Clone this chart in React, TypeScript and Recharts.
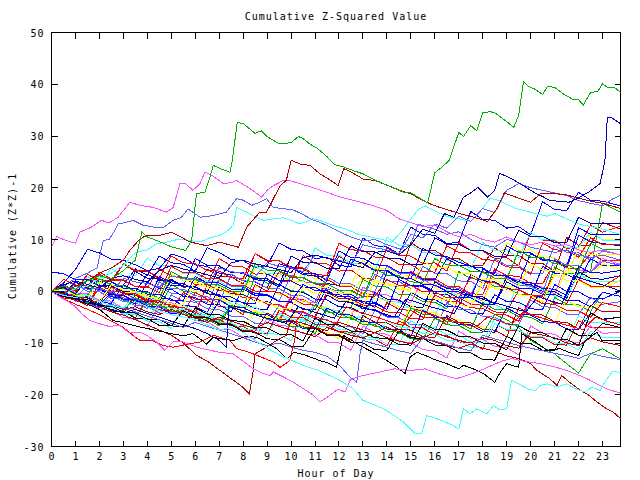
import { LineChart, Line, XAxis, YAxis, ReferenceArea } from "recharts";

// --- axis values ---
const HOUR_TICKS = [0, 1, 2, 3, 4, 5, 6, 7, 8, 9, 10, 11, 12, 13, 14, 15, 16, 17, 18, 19, 20, 21, 22, 23];
const VALUE_TICKS = [-30, -20, -10, 0, 10, 20, 30, 40, 50];

// half-hour sample times used by the background walks
const HOURS = [
  0, 0.5, 1, 1.5, 2, 2.5, 3, 3.5,
  4, 4.5, 5, 5.5, 6, 6.5, 7, 7.5,
  8, 8.5, 9, 9.5, 10, 10.5, 11, 11.5,
  12, 12.5, 13, 13.5, 14, 14.5, 15, 15.5,
  16, 16.5, 17, 17.5, 18, 18.5, 19, 19.5,
  20, 20.5, 21, 21.5, 22, 22.5, 23, 23.75,
];

// --- colours (old GD style palette) ---
const GREEN = "#00b000";
const BLUE = "#0000ff";
const DBLUE = "#0000b0";
const RED = "#ff0000";
const DRED = "#b00000";
const MAGENTA = "#ff50ff";
const MARINE = "#6060ff";
const CYAN = "#40ffff";
const YELLOW = "#ffff00";
const BLACK = "#000000";

// --- outlier walks, [hour, value] ---
const TR_GREEN = [[0,0],[0.5,1],[1,0.4],[1.5,2],[2,3],[2.5,2.4],[3,4],[3.5,6],[3.77,11.4],[4,10.5],[4.5,9.6],[5,8.6],[5.6,7.9],[5.85,9.8],[6.05,18.9],[6.4,19.1],[6.6,21.8],[6.75,24.3],[7.1,23.6],[7.45,23],[7.55,25.3],[7.75,32.6],[8,32.4],[8.5,30.5],[8.75,31],[9,29.9],[9.5,28.5],[10,28.7],[10.3,29.9],[10.5,29.5],[10.8,28.4],[11.1,27.6],[11.5,26],[11.8,24.5],[12.2,24],[12.6,23.3],[13,22.7],[13.5,21.5],[14,20.5],[14.7,19.1],[15,19],[15.4,17.9],[15.7,17.1],[16,22.9],[16.3,24],[16.6,25.3],[17,30.7],[17.2,29.9],[17.5,32],[17.75,31],[18,34.5],[18.3,34.7],[18.5,34.5],[19.3,31.7],[19.5,34],[19.7,40.5],[19.9,39.6],[20.2,39],[20.5,38],[20.7,39.6],[21,39.4],[21.4,38],[21.8,37],[22,37],[22.2,36],[22.5,38.4],[22.8,38.6],[23,40.1],[23.2,39.4],[23.5,39.4],[23.75,38.4]];
const TR_DBLUE_TOP = [[0,0],[0.5,1.2],[1,2],[1.5,1.3],[2,0.6],[2.5,2.5],[3,3],[3.5,2.3],[4,1.8],[4.5,4],[5,5],[5.5,4.3],[6,3.8],[6.5,3.2],[7,2.6],[7.5,5.5],[8,6],[8.5,5.3],[9,4.8],[9.5,4.2],[10,3.6],[10.5,6.5],[11,7],[11.5,6.4],[12,5.8],[12.5,5.2],[13,4.6],[13.5,7.5],[14,7.8],[14.5,7],[15,9],[15.5,12],[16,11.2],[16.4,15],[16.8,14.3],[17.2,18.2],[17.5,19],[17.8,20.1],[18.2,18.2],[18.5,19.5],[18.7,22.8],[19.1,22],[19.56,20.8],[19.9,19.8],[20.26,18.8],[20.5,18.3],[20.8,17.5],[21.2,17.4],[21.6,17.2],[21.95,17.9],[22.4,19.1],[22.9,20.8],[23.1,25.3],[23.2,33.6],[23.35,33.6],[23.55,33],[23.75,32.4]];
const TR_MAG_TOP = [[0,8.5],[0.22,10.6],[0.6,9.8],[1,9.3],[1.18,11.4],[1.67,12.4],[2.09,13.7],[2.4,13.2],[2.78,14.3],[3.27,17.2],[3.69,16.6],[4.24,16.2],[4.8,15.3],[5.08,16.2],[5.36,20.8],[5.6,20.8],[5.9,19.5],[6.2,20.8],[6.4,23],[6.7,22.4],[7.17,20.8],[7.5,21],[7.73,21.4],[8.3,19.8],[8.77,18.2],[9,19.5],[9.26,20.4],[9.67,21.4],[10,21.3],[10.37,20.8],[11.2,19.6],[12.04,18.2],[12.9,17.2],[13.4,16.6],[14,15.6],[14.5,14],[14.97,13.3],[15.5,12.5],[16,12.8],[16.5,11.5],[17,10.5],[17.5,11],[18,10],[18.5,9.5],[19,10.5],[19.5,9.5],[20,9],[20.5,9.5],[21,8.7],[21.5,9],[22,8],[22.5,7.5],[23,8],[23.75,7]];
const TR_MARINE_TOP = [[0,0],[0.5,1],[1,2.5],[1.5,3.5],[1.9,4.5],[2.16,9.8],[2.4,10],[2.64,11.7],[2.78,13],[3.1,13.3],[3.41,13.7],[3.8,12.8],[4.24,12.4],[4.7,12.4],[5.08,13.7],[5.4,14.2],[5.7,15.9],[6.2,14.3],[6.7,14.6],[7.3,15.3],[7.73,17.9],[8,17.6],[8.35,16.6],[8.7,17.2],[8.98,17.9],[9.26,16.2],[10.1,15.7],[10.5,14.8],[10.9,13.8],[11.2,13.3],[11.6,12.5],[12,11.5],[12.5,10.5],[13,9.7],[13.5,10],[14,9],[14.5,8.2],[15,9],[15.3,13],[15.6,12.5],[16,12],[16.5,11],[17,11.5],[17.5,10],[18,9],[18.5,8.5],[19,10],[19.5,9.5],[20,8.5],[20.5,8],[21,7.5],[21.5,8],[22,7],[22.5,6.5],[23,7],[23.75,6]];
const TR_MARINE_2 = [[0,0],[0.5,-0.6],[1,1],[1.5,0.4],[2,0.5],[2.5,-0.2],[3,2.5],[3.5,1.8],[4,1.5],[4.5,0.8],[5,3],[5.5,2.4],[6,2.2],[6.5,1.5],[7,4.5],[7.5,3.8],[8,3.5],[8.5,2.8],[9,5.5],[9.5,4.8],[10,4.5],[10.5,3.8],[11,7],[11.5,6.4],[12,6],[12.5,5.3],[13,9],[13.5,8.4],[14,8],[14.5,7.3],[15,11],[15.5,10.3],[16,13],[16.5,12.2],[17,14.5],[17.5,13.5],[18,16],[18.5,15.2],[19,19.5],[19.5,20.8],[20,20],[20.5,19.5],[21,19],[21.5,18.5],[22,17.5],[22.5,17],[23,16.5],[23.4,17.8],[23.75,18.5]];
const TR_CYAN_TOP = [[0,0],[0.5,-0.5],[1,0.5],[1.5,1],[2,2.5],[2.5,3.5],[3,5],[3.5,7.5],[4,8],[4.38,9.2],[4.8,9.5],[5.36,10.1],[5.8,9.8],[6.2,9.5],[6.6,10.3],[7.03,10.8],[7.3,11.5],[7.59,12.7],[7.73,16.2],[8.1,15.4],[8.42,14.6],[8.84,13.7],[9.3,14],[9.67,14.2],[10,13.7],[10.37,13],[10.9,14],[11.2,13.7],[11.75,12.7],[12.3,12],[12.8,11],[13.3,10.5],[13.8,10],[14.2,9.5],[14.6,11.5],[15,14],[15.3,15.8],[15.6,16.5],[16,15.5],[16.5,14.5],[17,14],[17.5,13.5],[18,16],[18.3,18],[18.7,17.5],[19,16.8],[19.4,16],[19.8,15.5],[20.2,15],[20.7,14.5],[21,15],[21.5,14],[22,13],[22.5,12.5],[23,12],[23.75,11]];
const TR_DRED_TOP = [[0,0],[0.5,-0.5],[1,1],[1.5,2],[2,3.5],[2.5,4.5],[3,6],[3.27,7.9],[3.69,10.1],[3.97,10.8],[4.5,10.8],[5.01,11.4],[5.4,10.5],[5.78,9.5],[6.1,9.2],[6.47,8.8],[7.03,9.5],[7.4,9],[7.8,8.5],[8.15,12.4],[8.7,15.3],[8.98,15.3],[9.54,20.4],[9.8,21.4],[10,25.3],[10.37,24.6],[10.8,24.3],[11.2,22.7],[11.6,21.6],[11.97,20.4],[12.2,23.7],[12.6,22.8],[13,21.7],[13.5,21.4],[14,20.5],[14.55,19.5],[15,18.8],[15.4,17.8],[15.8,16.9],[16.2,16.2],[16.7,15.5],[17.2,14.8],[17.7,14.2],[18.2,13.5],[18.6,16],[18.9,19],[19.2,18.5],[19.6,17.8],[20,17.2],[20.4,18.8],[20.95,18.9],[21.5,18.6],[22,18],[22.5,17.4],[23,17],[23.75,16]];
const TR_CYAN_LOW = [[0,0],[0.5,-0.8],[1,-1.2],[1.5,-0.8],[2,-2],[2.5,-2.8],[3,-3.2],[3.5,-2],[4,-3],[4.5,-3.8],[5,-4.5],[5.5,-5],[6,-5.5],[6.5,-6.5],[7,-7.5],[7.5,-7],[8,-8],[8.5,-9.5],[9,-11],[9.67,-12.7],[10.1,-13.5],[10.5,-14.3],[11.2,-15.4],[12.04,-17.2],[12.6,-18.9],[13,-21.1],[13.4,-21.8],[13.85,-22.7],[14.3,-24],[14.7,-25.3],[15.18,-27.5],[15.46,-27.5],[15.66,-24],[16,-24.5],[16.3,-25],[16.7,-25.8],[17,-26.6],[17.2,-22.7],[17.47,-23.7],[17.75,-22.7],[18.17,-23.7],[18.45,-22.1],[18.7,-22.9],[19,-22.7],[19.2,-17.2],[19.5,-17.9],[19.9,-18.9],[20.2,-19.2],[20.4,-18.2],[20.7,-17.9],[21.1,-18.5],[21.5,-17.9],[21.9,-18.9],[22.3,-19.5],[22.55,-18.5],[22.9,-19.2],[23.1,-17.5],[23.4,-15.6],[23.6,-15.6],[23.75,-16]];
const TR_DRED_LOW_1 = [[0,0],[0.5,-1],[1,-1.8],[1.5,-2.5],[2,-3],[2.5,-4],[3,-4.6],[3.5,-5.5],[4,-6.5],[4.5,-7.5],[5,-8.5],[5.5,-10],[6.06,-12.4],[6.5,-13.5],[7.03,-15.3],[7.59,-17.2],[8,-18.6],[8.26,-19.8],[8.42,-15.3],[8.49,-12.1],[8.98,-10.8],[9.4,-9.5],[9.8,-8.5],[10,-5.6],[10.5,-6.2],[11,-7],[11.5,-7.6],[12,-6],[12.5,-6.8],[13,-7.5],[13.5,-8],[14,-7],[14.5,-7.8],[15,-8.5],[15.5,-9],[16,-8],[16.5,-8.8],[17,-9.5],[17.5,-10],[18,-9],[18.5,-9.5],[19,-10.5],[19.5,-11],[20,-8],[20.5,-8.5],[21,-9],[21.5,-10],[22,-10.5],[22.5,-9],[23,-9.8],[23.75,-10.5]];
const TR_DRED_LOW_2 = [[0,0],[0.5,-0.6],[1,-1.5],[1.5,-1],[2,-2],[2.5,-2.8],[3,-3.5],[3.5,-3],[4,-4],[4.5,-4.5],[5,-3.5],[5.5,-4.5],[6,-5.2],[6.5,-6],[7,-5],[7.5,-5.8],[8,-6.5],[8.5,-7.2],[9,-6],[9.5,-6.8],[10,-7.5],[10.5,-8],[11,-8.8],[11.5,-7],[12,-7.8],[12.5,-8.5],[13,-9],[13.5,-8],[14,-9],[14.5,-9.6],[15,-10.2],[15.5,-9],[16,-9.8],[16.5,-10.5],[17,-11],[17.5,-10.2],[18,-11],[18.5,-11.6],[19,-12.5],[19.5,-13],[20,-14],[20.26,-15.3],[20.8,-16.9],[21.1,-18.2],[21.3,-16.3],[21.6,-17.5],[22,-18.9],[22.4,-20],[22.77,-21.4],[23.1,-22.5],[23.46,-23.4],[23.75,-24.6]];
const TR_MAG_LOW = [[0,0],[0.3,-1],[0.7,-2],[1,-3],[1.3,-4.5],[1.6,-5.65],[2.02,-6.3],[2.4,-6.8],[2.85,-6.6],[3.2,-7.9],[3.69,-7.9],[4,-8.6],[4.38,-9.8],[4.73,-11.4],[5.08,-9.8],[5.5,-9.8],[6.06,-10.8],[6.5,-11.3],[7.03,-11.8],[7.59,-12.1],[8,-13.5],[8.42,-15],[8.8,-15.8],[9.12,-16.3],[9.26,-15.6],[9.7,-16.6],[10.1,-17.6],[10.5,-18.8],[10.93,-20.1],[11.2,-21.4],[11.5,-20.5],[11.97,-18.9],[12.25,-19.5],[12.46,-17.2],[12.8,-16.5],[13.3,-16],[13.8,-15.5],[14.3,-15],[15,-15.3],[15.6,-15],[16.2,-16],[16.9,-16.9],[17.3,-16.3],[17.8,-15.5],[18.3,-14.5],[18.8,-13.5],[19.2,-13],[19.7,-13.5],[20.4,-14],[21,-14.6],[21.5,-15.3],[22,-16.2],[22.35,-16.9],[22.8,-18],[23.2,-18.9],[23.75,-19.7]];
const TR_BLACK = [[0,0],[0.5,-1],[1,-1.5],[1.5,-2.5],[2,-3.5],[2.57,-5.65],[3.1,-6.2],[3.69,-6.9],[4.3,-7.5],[5.01,-8.2],[5.5,-8.6],[5.9,-8.2],[6.2,-9.2],[6.47,-10.2],[6.75,-8.9],[7.2,-9.3],[7.59,-9.5],[8.15,-8.7],[8.56,-8.9],[9,-10],[9.4,-11.1],[9.82,-13.1],[10.1,-11.8],[10.5,-12.2],[10.8,-12.7],[11.2,-13.4],[11.5,-13.8],[11.9,-14.7],[12.18,-8.5],[12.6,-9.7],[13,-10.8],[13.5,-12],[14,-13.4],[14.4,-14.6],[14.76,-15.9],[14.97,-12.7],[15.25,-11.8],[15.6,-12.4],[15.94,-13.1],[16.5,-14],[17,-15],[17.2,-14.3],[17.6,-15],[18.03,-15.9],[18.5,-17.6],[18.75,-15.5],[19,-14],[19.5,-14.7],[19.63,-8.2],[20.2,-9.8],[20.68,-11.4],[21.23,-11.1],[21.6,-11.8],[22,-12.4],[22.28,-9.5],[22.77,-7.9],[22.97,-9.5],[23.4,-9.5],[23.75,-9.6]];
const TR_RED_LOW = [[0,0],[0.5,-1.5],[1,-2.5],[1.5,-3.5],[2,-4.5],[2.5,-5.8],[3,-7],[3.4,-8.5],[3.69,-9.5],[4.2,-9.5],[4.66,-10.5],[5.08,-10.8],[5.6,-10.3],[6.2,-9.8],[6.75,-8.5],[7.1,-9],[7.45,-9.5],[7.73,-11.1],[8.1,-11.6],[8.42,-12.1],[8.8,-12.8],[9.26,-13.7],[9.54,-14.7],[9.95,-13.4],[10.16,-9.2],[10.23,-5.65],[10.5,-4],[10.9,-4.8],[11.4,-5.5],[11.9,-6.2],[12.3,-3],[12.7,-3.8],[13.2,-4.5],[13.7,-5.2],[14.2,-6],[14.7,-6.6],[15.2,-3.5],[15.7,-4.2],[16.2,-5],[16.7,-5.7],[17.2,-6.3],[17.7,-7],[18.2,-5],[18.7,-5.8],[19.2,-6.5],[19.7,-4],[20.2,-4.8],[20.7,-5.5],[21.2,-6.2],[21.7,-6.8],[22.2,-7.4],[22.7,-5],[23.2,-5.8],[23.75,-6.5]];
const TR_DBLUE_LOW = [[0,0],[0.5,-0.5],[1,-1.3],[1.5,-2],[2,-2.8],[2.5,-3.5],[3,-4.2],[3.5,-3.5],[4,-4.3],[4.5,-5],[5,-5.8],[5.5,-6.5],[6,-7.2],[6.5,-8.2],[7,-9.5],[7.3,-10.8],[7.4,-3],[7.8,-3.5],[8.3,-4.2],[8.8,-5],[9.3,-5.6],[9.8,-6.2],[10.3,-3],[10.8,-3.8],[11.3,-4.5],[11.8,-5.2],[12.3,-2],[12.8,-2.7],[13.3,-3.5],[13.8,-4.2],[14.3,-5],[14.8,-1.5],[15.3,-2.2],[15.8,-3],[16.3,-3.6],[16.8,-4.3],[17.3,-0.5],[17.8,-1.2],[18.3,-2],[18.8,-2.6],[19.3,-3.3],[19.8,-4],[20.3,-1],[20.8,-1.8],[21.3,-2.5],[21.8,3],[22.3,2.2],[22.8,1.5],[23.3,0.8],[23.75,0]];
const TR_MARINE_LOW = [[0,0],[0.5,-0.8],[1,-1.6],[1.5,-2.4],[2,-3.2],[2.5,-2.5],[3,-3.3],[3.5,-4],[4,-4.8],[4.5,-5.5],[5,-6.2],[5.5,-7],[6,-6],[6.5,-6.8],[7,-7.5],[7.5,-8.2],[8,-9],[8.5,-9.8],[9,-10.5],[9.5,-10],[10,-10.8],[10.5,-11.4],[11,-11.8],[11.5,-12.6],[12,-14.2],[12.46,-16.6],[12.74,-17.6],[12.88,-12.1],[13,-9.5],[13.5,-10.2],[14,-10.8],[14.5,-11.5],[15,-12],[15.5,-9],[16,-9.6],[16.5,-10.3],[17,-11],[17.5,-11.5],[18,-8.5],[18.5,-9.2],[19,-9.8],[19.5,-10.5],[20,-11],[20.5,-11.5],[21,-12],[21.5,-12.4],[22,-13],[22.5,-12],[23,-12.6],[23.75,-13.2]];

// --- background walks, one value per entry of HOURS ---
const F01 = [0,0.9,-0.3,2.2,1.9,0.7,1.2,4.3, 3.1,6.8,5.5,5.2,3.9,8.4,7.5,6.1, 5.9,4.6,4.9,9.3,8.1,7.8,6.3,6.6, 5.0,4.7,10.3,8.8,8.6,7.2,12.4,11.0, 10.8,9.2,9.5,15.4,13.9,13.7,12.2,12.5, 10.9,17.3,15.8,15.6,19.1,17.6,17.4,16.5];
const F02 = [0,-0.8,1.8,0.6,3.7,2.4,2.2,0.9, 0.7,4.3,2.9,2.7,1.3,1.4,6.3,4.9, 4.7,3.3,3.5,2.0,1.8,6.9,5.4,5.3, 3.9,4.1,2.5,2.3,8.4,6.9,6.8,5.3, 5.5,3.9,9.4,7.9,7.8,6.3,6.5,4.9, 11.4,9.9,9.8,8.3,8.5,12.8,11.4,12.6];
const F03 = [0,1.1,-0.3,3.3,1.9,1.8,5.3,3.8, 3.9,2.4,2.2,0.8,0.9,4.3,2.9,2.8, 1.4,7.3,5.8,5.9,4.4,4.3,2.8,3.0, 6.8,5.4,5.3,3.9,4.0,2.5,9.4,7.9, 7.9,6.4,6.3,4.9,5.0,8.4,6.9,6.9, 5.4,5.4,3.8,10.4,8.9,8.9,13.3,12.0];
const F04 = [0,-0.9,-1.0,-2.4,-2.3,1.2,-0.3,-0.4, -1.8,2.9,1.4,1.5,0,-0.1,-1.4,-1.3, 2.4,0.9,1.0,-0.6,-0.5,3.9,2.4,2.5, 1.0,1.1,5.9,4.4,4.5,2.9,3.0,1.4, 1.5,6.4,4.9,5.0,3.4,3.5,9.4,7.9, 8.0,6.4,6.5,4.9,5.0,11.4,9.9,10.0];
const F05 = [0,0.8,-0.7,2.9,1.4,4.4,2.9,3.0, 6.4,4.9,5.0,3.4,3.5,1.9,2.0,0.4, 0.5,4.9,3.4,3.5,1.9,2.0,8.4,6.9, 7.0,5.4,5.5,3.9,10.4,8.9,9.0,7.4, 7.5,5.9,6.0,4.4,9.4,7.9,8.0,6.4, 11.4,9.9,10.0,8.4,8.5,11.4,9.9,9.8];
const F06 = [0,1.6,4.2,8.1,7.4,6.2,6.0,5.1, 4.0,4.4,7.2,6.5,5.1,4.8,3.5,3.2, 2.0,1.8,0.6,5.3,4.6,3.2,3.0,1.5, 1.1,6.2,5.4,4.0,4.1,2.6,2.4,8.3, 7.0,6.7,5.6,4.8,4.5,3.2,2.9,1.7, 7.3,6.0,5.9,4.4,10.8,9.6,9.2,8.8];
const F07 = [0,-0.2,-1.3,1.1,0.2,-0.4,-1.7,-1.8, -3.0,-3.2,1.3,0.0,-0.2,-1.5,-1.6,-2.9, -3.1,2.8,1.6,1.3,0.1,-0.1,-1.5,-1.7, -3.0,-3.2,2.3,1.0,0.8,-0.6,-0.7,-2.0, -2.1,-3.4,3.8,2.4,2.3,0.9,0.8,-0.6, -0.7,-2.1,4.7,3.4,3.5,3.8,17.0,15.3];
const F08 = [0,-1.1,-1.2,-2.5,-2.7,-0.8,-2.0,-2.2, -3.4,0.8,-0.4,-0.6,-1.9,-2.1,2.3,1.0, 0.9,-0.4,-0.6,-1.9,3.1,1.8,1.7,0.3, 0.2,-1.2,-1.3,3.3,2.0,1.9,0.5,4.8, 3.5,3.4,2.0,1.9,0.5,6.3,5.0,4.9, 3.5,3.4,8.8,7.5,7.4,6.0,7.8,7.0];
const F09 = [0,-1.3,-1.5,-2.8,0.8,-0.5,-0.7,-2.1, -2.2,-3.6,-3.7,-0.2,-1.5,-1.7,-3.0,-3.1, -4.5,1.3,0,-0.2,-1.5,-1.6,-3.0,2.3, 1.0,0.9,-0.5,-0.6,-2.0,-2.1,3.8,2.5, 2.4,1.0,0.9,-0.5,-0.6,4.3,3.0,2.9, 1.5,1.4,5.8,4.5,4.4,7.3,6.0,6.0];
const F10 = [0,-0.4,1.8,0.5,0.4,-1.1,-1.2,-2.5, 1.8,0.5,0.4,-1.0,-1.2,-2.5,-2.6,-4.0, 0.8,-0.5,-0.6,-2.0,-2.1,-3.5,-3.6,0.8, -0.5,-0.6,-2.0,-2.1,-3.5,2.3,1.0,0.9, -0.5,-0.6,-2.0,3.3,2.0,1.8,0.5,0.3, -1.0,4.8,3.5,3.3,2.0,6.3,5.0,5.0];
const F11 = [0,1.1,-0.3,-0.5,-1.8,-1.9,-3.3,-3.4, -0.7,-2.0,-2.2,-3.5,-3.7,-5.0,-1.2,-2.5, -2.7,-4.0,-4.1,-5.4,-0.7,-2.0,-2.2,-3.5, -3.7,-5.0,0.8,-0.5,-0.7,-2.0,-2.1,2.3, 1.0,0.8,-0.5,-0.7,-2.0,3.8,2.5,2.3, 1.0,0.8,-0.5,5.3,4.0,3.8,6.3,5.2];
const F12 = [0,-0.3,-1.6,-1.7,-3.0,-3.1,-4.3,-0.7, -2.0,-2.1,-3.4,-3.5,-4.8,-4.9,-1.2,-2.5, -2.7,-4.0,-4.1,-5.4,-5.5,-1.7,-3.0,-3.1, -4.4,-4.5,-0.2,-1.5,-1.7,-3.0,-3.1,-4.4, 0.8,-0.5,-0.7,-2.0,-2.1,3.3,2.0,1.8, 0.5,0.3,-1.0,4.3,3.0,2.8,5.3,4.3];
const F13 = [0,-0.8,-0.9,-2.2,-2.3,0.8,-0.5,-0.7, -2.0,-2.1,2.3,1.0,0.8,-0.5,-0.7,-2.0, -2.1,-3.4,-3.5,1.3,0,-0.2,-1.5,-1.7, -3.0,-3.1,-4.4,-0.2,-1.5,-1.7,-3.0,-3.1, 1.8,0.5,0.3,-1.0,-1.1,-2.4,2.8,1.5, 1.3,0,-0.1,-1.4,3.8,2.5,2.3,3.0];
const F14 = [0,0.7,-0.6,-0.7,-2.0,-2.1,-3.4,-0.2, -1.5,-1.7,-3.0,-3.1,-4.4,-4.5,-5.8,-1.7, -3.0,-3.1,-4.4,-4.5,-5.8,-5.9,-2.2,-3.5, -3.7,-5.0,-5.1,-0.7,-2.0,-2.1,-3.4,-3.5, -4.8,0.3,-1.0,-1.1,-2.4,-2.5,-3.8,1.8, 0.5,0.3,-1.0,-1.1,3.3,2.0,1.8,2.0];
const F15 = [0,-1.1,-1.2,-2.5,1.3,0,-0.2,-1.5, -1.6,-2.9,-3.0,-4.3,-0.2,-1.5,-1.7,-3.0, -3.1,-4.4,-4.5,-5.8,-1.2,-2.5,-2.7,-4.0, -4.1,-5.4,-5.5,-6.8,-2.2,-3.5,-3.7,-5.0, -5.1,-6.4,-1.2,-2.5,-2.7,-4.0,-4.1,0.3, -1.0,-1.1,-2.4,-2.5,2.3,1.0,0.8,1.0];
const F16 = [0,0.6,-0.8,-0.9,-2.2,-2.3,1.3,0, -0.1,-1.4,-1.5,-2.8,-2.9,-4.2,0.8,-0.5, -0.6,-1.9,-2.0,-3.3,-3.4,-4.7,-4.8,-0.7, -2.0,-2.1,-3.4,-3.5,-4.8,-4.9,-0.2,-1.5, -1.6,-2.9,-3.0,-4.3,-4.4,-0.7,-2.0,-2.1, -3.4,-3.5,1.3,0,-0.1,-1.4,-1.5,0];
const F17 = [0,-0.9,-1.0,-2.3,-2.4,-3.7,-3.8,-5.1, -1.7,-3.0,-3.1,-4.4,-4.5,-5.8,-5.9,-2.7, -4.0,-4.1,-5.4,-5.5,-6.8,-6.9,-2.7,-4.0, -4.1,-5.4,-5.5,-6.8,-6.9,-8.2,-3.2,-4.5, -4.6,-5.9,-6.0,-7.3,-2.2,-3.5,-3.6,-4.9, -5.0,-6.3,-1.2,-2.5,-2.6,-3.9,-0.2,-1.0];
const F18 = [0,-0.2,1.3,0,-0.1,-1.4,-1.5,-2.8, -2.9,-4.2,-0.7,-2.0,-2.1,-3.4,-3.5,-4.8, -4.9,-6.2,-6.3,-2.7,-4.0,-4.1,-5.4,-5.5, -6.8,-6.9,-8.2,-3.7,-5.0,-5.1,-6.4,-6.5, -7.8,-2.2,-3.5,-3.6,-4.9,-5.0,-6.3,-6.4, -1.7,-3.0,-3.1,-4.4,-4.5,-1.2,-2.5,-2.0];
const F19 = [0,-1.0,-1.1,-2.4,-2.5,-3.8,-3.9,-5.2, -5.3,-2.2,-3.5,-3.6,-4.9,-5.0,-6.3,-6.4, -7.7,-3.7,-5.0,-5.1,-6.4,-6.5,-7.8,-7.9, -9.2,-4.7,-6.0,-6.1,-7.4,-7.5,-2.7,-4.0, -4.1,-5.4,-5.5,-6.8,-6.9,-8.2,-3.2,-4.5, -4.6,-5.9,-6.0,-1.7,-3.0,-3.1,-2.2,-3.0];
const F20 = [0,-0.2,-1.5,-1.6,-2.9,-3.0,-4.3,-0.7, -2.0,-2.1,-3.4,-3.5,-4.8,-4.9,-6.2,-6.3, -7.6,-7.7,-4.2,-5.5,-5.6,-6.9,-7.0,-8.3, -8.4,-9.7,-4.7,-6.0,-6.1,-7.4,-7.5,-8.8, -8.9,-4.7,-6.0,-6.1,-7.4,-7.5,-8.8,-3.2, -4.5,-4.6,-5.9,-6.0,-7.3,-2.7,-4.0,-4.0];
const F21 = [0,-1.1,-1.2,-2.5,-2.6,-0.2,-1.5,-1.6, -2.9,-3.0,-4.3,-4.4,-5.7,-5.8,-1.7,-3.0, -3.1,-4.4,-4.5,-5.8,-5.9,-7.2,-7.3,-3.2, -4.5,-4.6,-5.9,-6.0,-7.3,-7.4,-8.7,-3.7, -5.0,-5.1,-6.4,-6.5,-7.8,-7.9,-3.2,-4.5, -4.6,-5.9,-6.0,-7.3,-7.4,-4.2,-5.5,-5.0];
const F22 = [0,-0.3,-1.6,-1.7,-3.0,-3.1,-4.4,-4.5, -5.8,-5.9,-7.2,-2.7,-4.0,-4.1,-5.4,-5.5, -6.8,-6.9,-8.2,-8.3,-9.6,-4.7,-6.0,-6.1, -7.4,-7.5,-8.8,-8.9,-10.2,-10.3,-5.7,-7.0, -7.1,-8.4,-8.5,-9.8,-9.9,-5.2,-6.5,-6.6, -7.9,-8.0,-9.3,-9.4,-4.7,-6.0,-6.1,-6.0];
const F23 = [0,-1.0,-1.1,-2.4,-2.5,-3.8,-3.9,-5.2, -1.2,-2.5,-2.6,-3.9,-4.0,-5.3,-5.4,-6.7, -6.8,-8.1,-8.2,-3.7,-5.0,-5.1,-6.4,-6.5, -7.8,-7.9,-9.2,-9.3,-10.6,-5.7,-7.0,-7.1, -8.4,-8.5,-9.8,-9.9,-11.2,-6.2,-7.5,-7.6, -8.9,-9.0,-10.3,-10.4,-5.7,-7.0,-7.1,-7.0];
const F24 = [0,-0.5,-1.9,-2.1,-3.5,-3.7,-5.1,-5.3, -6.7,-2.7,-4.1,-4.3,-5.7,-5.9,-7.3,-7.5, -8.9,-9.1,-5.2,-6.6,-6.8,-8.2,-8.4,-9.8, -10.0,-11.4,-6.7,-8.1,-8.3,-9.7,-9.9,-11.3, -11.5,-12.9,-7.7,-9.1,-9.3,-10.7,-10.9,-12.3, -6.7,-8.1,-8.3,-9.7,-9.9,-6.7,-8.1,-8.0];
const F25 = [0,-0.8,-0.9,-2.2,-2.3,-3.6,-3.7,-1.2, -2.5,-2.6,-3.9,-4.0,-5.3,-5.4,-6.7,-2.7, -4.0,-4.1,-5.4,-5.5,-6.8,-6.9,-8.2,-3.7, -5.0,-5.1,-6.4,-6.5,-7.8,-7.9,-9.2,-9.3, -5.2,-6.5,-6.6,-7.9,-8.0,-4.5,-5.5,-7.0, -9.5,-10.8,-12.1,-14.0,-15.8,-12.1,-11.1,-13.1];
const F26 = [0,-1.0,-1.1,-2.4,-2.5,-3.8,-3.9,-5.2, -5.3,-6.6,-6.7,-3.7,-5.0,-5.1,-6.4,-6.5, -7.8,-7.9,-9.2,-9.3,-10.6,-10.7,-7.2,-8.5, -8.6,-9.9,-10.0,-11.3,-11.4,-7.7,-9.0,-9.1, -10.4,-10.5,-11.8,-11.9,-13.2,-13.3,-8.7,-10.0, -10.1,-11.4,-11.5,-7.2,-8.5,-8.6,-6.2,-7.0];
const F27 = [0,1.3,0,3.3,2.2,2.1,5.3,4.0, 3.9,2.6,6.8,5.5,5.3,4.0,3.9,2.6, 2.5,7.3,6.0,5.9,4.6,4.5,3.2,3.1, 9.3,8.0,7.9,6.6,6.5,5.2,5.1,3.8, 3.7,8.8,7.5,7.4,6.1,6.0,4.7,4.6, 3.3,9.3,8.0,7.9,6.6,10.3,9.0,9.0];
const F28 = [3.7,3.4,2.2,2.2,1.0,0.9,-0.4,3.8, 2.5,2.4,1.1,1.0,6.3,5.0,4.9,3.6, 3.5,2.2,2.1,0.8,4.8,3.5,3.4,2.1, 7.8,6.5,6.4,5.1,5.0,3.7,3.6,2.3, 2.2,6.3,5.0,4.9,3.6,3.5,8.8,7.5, 7.4,6.1,6.0,4.7,12.3,11.0,10.9,11.0];
const F29 = [0,-0.3,-1.5,1.3,0.1,0,-1.3,-1.4, -2.7,1.8,0.5,0.4,-0.9,-1.0,-2.3,3.3, 2.0,1.9,0.6,0.5,-0.8,-0.9,-2.2,2.8, 1.5,1.4,0.1,0,4.8,3.5,3.4,2.1, 2.0,0.7,0.6,-0.7,3.8,2.5,2.4,1.1, 1.0,-0.3,6.3,5.0,4.9,3.6,5.8,5.0];
const F30 = [0,-0.2,-1.4,-1.4,1.8,0.6,0.6,-0.6, -0.6,-1.8,3.3,2.1,2.1,0.9,0.9,-0.3, -0.3,4.3,3.1,3.1,1.9,1.9,0.7,0.7, -0.5,-0.5,2.8,1.6,1.6,0.4,0.4,5.8, 4.6,4.6,3.4,3.4,2.2,2.2,1.0,1.0, 5.3,4.1,4.1,2.9,8.3,7.1,7.1,7.0];
const F31 = [0,0.8,-0.5,2.3,1.1,1.1,-0.1,-0.1, 3.3,2.1,2.1,0.9,0.9,-0.3,4.8,3.6, 3.6,2.4,2.4,1.2,6.8,5.6,5.6,4.4, 4.4,8.8,7.6,7.6,6.4,6.4,5.2,5.2, 10.3,9.1,9.1,7.9,7.9,6.7,6.7,11.8, 10.6,10.6,9.4,9.4,14.3,13.1,13.1,13.0];
const F32 = [0,2.3,1.1,1.1,3.3,2.1,2.1,0.9, 0.9,-0.3,4.8,3.6,3.6,2.4,2.4,1.2, 1.2,0,0,3.8,2.6,2.6,1.4,1.4, 0.2,0.2,-1.0,-1.0,2.3,1.1,1.1,-0.1, -0.1,-1.3,-1.3,2.8,1.6,1.6,0.4,0.4, -0.8,-0.8,3.3,2.1,2.1,0.9,0.9,3.0];
const F33 = [0,-0.1,-1.3,-1.3,-2.5,1.8,0.6,0.6, -0.6,-0.6,-1.8,-1.8,2.8,1.6,1.6,0.4, 0.4,-0.8,-0.8,-2.0,-2.0,1.3,0.1,0.1, -1.1,-1.1,-2.3,-2.3,-3.5,2.3,1.1,1.1, -0.1,-0.1,-1.3,-1.3,-2.5,-2.5,1.8,0.6, 0.6,-0.6,-0.6,-1.8,-1.8,-3.0,-0.2,-1.0];
const F34 = [0,0.5,-0.7,-0.8,2.4,1.2,1.1,-0.1, -0.2,-1.4,3.8,2.6,2.5,1.3,1.2,0, -0.1,5.3,4.1,4.0,2.8,2.7,1.5,1.4, 0.2,0.1,-1.1,4.3,3.1,3.0,1.8,1.7, 6.3,5.1,5.0,3.8,3.7,2.5,2.4,7.8, 6.6,6.5,5.3,5.2,4.0,9.3,8.1,8.0];
const F35 = [0,-0.6,-0.7,-1.9,-2.0,0.8,-0.4,-0.5, -1.7,-1.8,-3.0,-3.1,-4.3,1.3,0.1,0, -1.2,-1.3,-2.5,-2.6,-3.8,-3.9,-5.1,-0.2, -1.4,-1.5,-2.7,-2.8,-4.0,-4.1,-5.3,-5.4, -0.7,-1.9,-2.0,-3.2,-3.3,-4.5,-4.6,-5.8, -1.2,-2.4,-2.5,-3.7,-3.8,-5.0,-2.2,-3.0];
const F36 = [0,-0.9,1.8,0.6,0.5,-0.7,-0.8,-2.0, -2.1,2.8,1.6,1.5,0.3,0.2,-1.0,-1.1, -2.3,-2.4,3.3,2.1,2.0,0.8,0.7,-0.5, -0.6,-1.8,-1.9,-3.1,3.8,2.6,2.5,1.3, 1.2,0,-0.1,-1.3,4.3,3.1,3.0,1.8, 1.7,0.5,0.4,-0.8,4.8,3.6,3.5,4.0];
const F37 = [0,0.4,-0.8,-0.9,-2.1,1.3,0.1,0, -1.2,-1.3,-2.5,-2.6,1.8,0.6,0.5,-0.7, -0.8,-2.0,-2.1,-3.3,-3.4,0.8,-0.4,-0.5, -1.7,-1.8,-3.0,2.3,1.1,1.0,-0.2,-0.3, -1.5,-1.6,-2.8,-2.9,1.8,0.6,0.5,-0.7, -0.8,-2.0,3.3,2.1,2.0,0.8,0.7,2.0];
const F38 = [0,-0.5,-1.7,-1.8,-3.0,-3.1,-4.3,-4.4, -5.6,-2.2,-3.4,-3.5,-4.7,-4.8,-6.0,-6.1, -7.3,-7.4,-8.6,-4.2,-5.4,-5.5,-6.7,-6.8, -8.0,-8.1,-9.3,-9.4,-5.7,-6.9,-7.0,-8.2, -8.3,-9.5,-9.6,-10.8,-10.9,-6.2,-7.4,-7.5, -8.7,-8.8,-10.0,-10.1,-11.3,-7.7,-8.9,-9.0];
const F39 = [0,-0.3,-1.5,-1.6,-2.8,-2.9,-4.1,-4.2, -5.4,-5.5,-6.7,-6.8,-3.2,-4.4,-4.5,-5.7, -5.8,-7.0,-7.1,-8.3,-8.4,-9.6,-5.2,-6.4, -6.5,-7.7,-7.8,-9.0,-9.1,-10.3,-10.4,-6.2, -7.4,-7.5,-8.7,-8.8,-10.0,-10.1,-11.3,-6.7, -7.9,-8.0,-9.2,-9.3,-10.5,-4.2,-5.4,-5.0];

const BACKGROUND = [
  { id: "f01", color: BLUE, values: F01 }, { id: "f02", color: RED, values: F02 },
  { id: "f03", color: DRED, values: F03 }, { id: "f04", color: YELLOW, values: F04 },
  { id: "f05", color: CYAN, values: F05 }, { id: "f06", color: BLUE, values: F06 },
  { id: "f07", color: GREEN, values: F07 }, { id: "f08", color: MARINE, values: F08 },
  { id: "f09", color: RED, values: F09 }, { id: "f10", color: BLUE, values: F10 },
  { id: "f11", color: MAGENTA, values: F11 }, { id: "f12", color: YELLOW, values: F12 },
  { id: "f13", color: DBLUE, values: F13 }, { id: "f14", color: CYAN, values: F14 },
  { id: "f15", color: RED, values: F15 }, { id: "f16", color: BLUE, values: F16 },
  { id: "f17", color: GREEN, values: F17 }, { id: "f18", color: MARINE, values: F18 },
  { id: "f19", color: YELLOW, values: F19 }, { id: "f20", color: DRED, values: F20 },
  { id: "f21", color: BLUE, values: F21 }, { id: "f22", color: CYAN, values: F22 },
  { id: "f23", color: RED, values: F23 }, { id: "f24", color: MAGENTA, values: F24 },
  { id: "f25", color: GREEN, values: F25 }, { id: "f26", color: BLACK, values: F26 },
  { id: "f27", color: RED, values: F27 }, { id: "f28", color: BLUE, values: F28 },
  { id: "f29", color: MARINE, values: F29 }, { id: "f30", color: YELLOW, values: F30 },
  { id: "f31", color: DBLUE, values: F31 }, { id: "f32", color: RED, values: F32 },
  { id: "f33", color: BLUE, values: F33 }, { id: "f34", color: GREEN, values: F34 },
  { id: "f35", color: RED, values: F35 }, { id: "f36", color: BLUE, values: F36 },
  { id: "f37", color: YELLOW, values: F37 }, { id: "f38", color: CYAN, values: F38 },
  { id: "f39", color: BLACK, values: F39 },
];

const OUTLIERS = [
  { id: "t_dred_low2", color: DRED, points: TR_DRED_LOW_2 },
  { id: "t_dred_low1", color: DRED, points: TR_DRED_LOW_1 },
  { id: "t_marine_low", color: MARINE, points: TR_MARINE_LOW },
  { id: "t_dblue_low", color: DBLUE, points: TR_DBLUE_LOW },
  { id: "t_red_low", color: RED, points: TR_RED_LOW },
  { id: "t_black", color: BLACK, points: TR_BLACK },
  { id: "t_mag_low", color: MAGENTA, points: TR_MAG_LOW },
  { id: "t_cyan_low", color: CYAN, points: TR_CYAN_LOW },
  { id: "t_cyan_top", color: CYAN, points: TR_CYAN_TOP },
  { id: "t_marine_top", color: MARINE, points: TR_MARINE_TOP },
  { id: "t_marine_2", color: MARINE, points: TR_MARINE_2 },
  { id: "t_mag_top", color: MAGENTA, points: TR_MAG_TOP },
  { id: "t_dred_top", color: DRED, points: TR_DRED_TOP },
  { id: "t_dblue_top", color: DBLUE, points: TR_DBLUE_TOP },
  { id: "t_green", color: GREEN, points: TR_GREEN },
];

// rows for recharts, one {h, v} per sample
const SERIES = [
  ...BACKGROUND.map((s) => ({
    id: s.id,
    color: s.color,
    rows: HOURS.map((h, i) => ({ h, v: s.values[i] })).filter((r) => r.v !== undefined),
  })),
  ...OUTLIERS.map((s) => ({
    id: s.id,
    color: s.color,
    rows: s.points.map(([h, v]) => ({ h, v })),
  })),
];

// plot box in px (half-pixel so 1px strokes stay sharp)
const BOX = { left: 51.5, right: 620.5, top: 32.5, bottom: 446.5 };
const FONT = "'DejaVu Sans Mono', monospace";

function HourTick(props: any) {
  const { x, payload } = props;
  const px = Math.round(x - 0.5) + 0.5;
  return (
    <g>
      <line x1={px} x2={px} y1={BOX.bottom} y2={BOX.bottom - 6} stroke="#000" />
      <line x1={px} x2={px} y1={BOX.top} y2={BOX.top + 6} stroke="#000" />
      <text x={x + 0.5} y={460} textAnchor="middle" fontFamily={FONT} fontSize={10} letterSpacing={1} fill="#000">
        {payload.value}
      </text>
    </g>
  );
}

function ValueTick(props: any) {
  const { y, payload } = props;
  const py = Math.round(y - 0.5) + 0.5;
  return (
    <g>
      <line x1={BOX.left} x2={BOX.left + 6} y1={py} y2={py} stroke="#000" />
      <line x1={BOX.right - 6} x2={BOX.right} y1={py} y2={py} stroke="#000" />
      <text x={44.5} y={y + 4} textAnchor="end" fontFamily={FONT} fontSize={10} letterSpacing={1} fill="#000">
        {payload.value}
      </text>
    </g>
  );
}

export default function App() {
  return (
    <div style={{ position: "absolute", left: 0, top: 0, width: 640, height: 480, background: "#fff", shapeRendering: "crispEdges" }}>
      <LineChart width={640} height={480} margin={{ top: BOX.top, right: 640 - BOX.right, bottom: 0, left: 0 }}>
        <XAxis
          type="number"
          dataKey="h"
          domain={[0, 23.75]}
          ticks={HOUR_TICKS}
          interval={0}
          height={480 - BOX.bottom}
          axisLine={false}
          tickLine={false}
          tick={HourTick}
          allowDataOverflow
        />
        <YAxis
          type="number"
          domain={[-30, 50]}
          ticks={VALUE_TICKS}
          interval={0}
          width={BOX.left}
          axisLine={false}
          tickLine={false}
          tick={ValueTick}
          allowDataOverflow
        />
        <ReferenceArea x1={0} x2={23.75} y1={-30} y2={50} fill="none" fillOpacity={0} stroke="#000" strokeWidth={1} />
        {SERIES.map((s) => (
          <Line
            key={s.id}
            name={s.id}
            data={s.rows}
            dataKey="v"
            type="linear"
            stroke={s.color}
            strokeWidth={1}
            dot={false}
            activeDot={false}
            isAnimationActive={false}
          />
        ))}
      </LineChart>
      {/* title and axis titles */}
      <svg width={640} height={480} style={{ position: "absolute", left: 0, top: 0, pointerEvents: "none" }}>
        <g fontFamily={FONT} fontSize={10} letterSpacing={1} fill="#000">
          <text x={336} y={19.5} textAnchor="middle">Cumulative Z-Squared Value</text>
          <text x={336} y={477} textAnchor="middle">Hour of Day</text>
          <text transform="translate(15.5,236) rotate(-90)" textAnchor="middle">Cumulative (Z*Z)-1</text>
        </g>
      </svg>
    </div>
  );
}
